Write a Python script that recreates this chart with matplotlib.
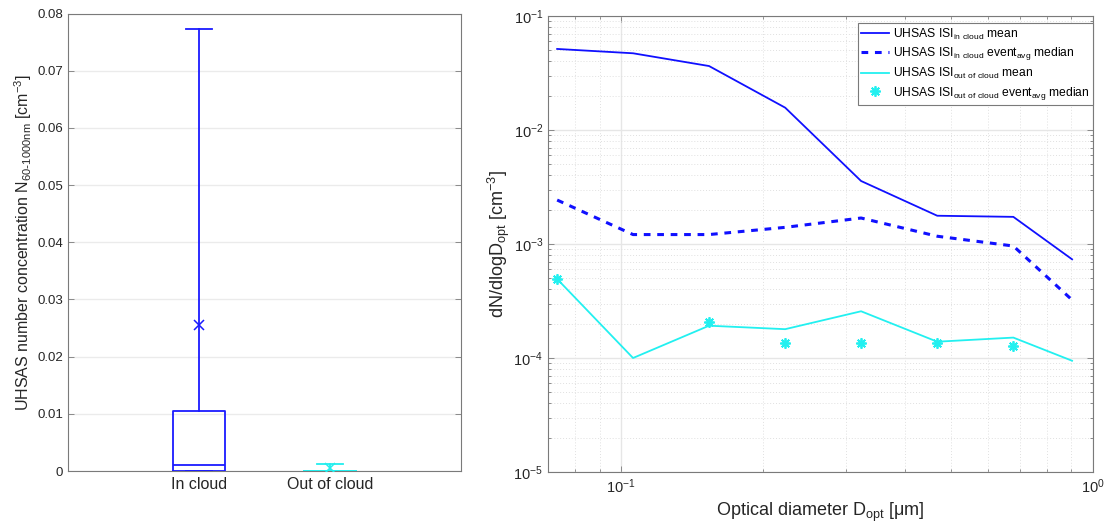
import numpy as np
import matplotlib
matplotlib.use("Agg")
import matplotlib.pyplot as plt
from matplotlib.ticker import NullFormatter, LogLocator, FuncFormatter

plt.rcParams['font.family'] = ['Liberation Sans', 'DejaVu Sans']
plt.rcParams['mathtext.default'] = 'regular'

# ---- box plot: total number concentration ----
box_labels = ["In cloud", "Out of cloud"]
box_whislo = [0.0, 0.0]
box_q1 = [0.0, 0.0]
box_med = [0.00105, 0.0]
box_q3 = [0.01055, 0.0]
box_whishi = [0.0773, 0.00117]
box_mean = [0.02555, 0.0005]
box_colors = ["#1a1aff", "#22eeee"]
left_yticks = [0, 0.01, 0.02, 0.03, 0.04, 0.05, 0.06, 0.07, 0.08]

# ---- size distributions ----
d_opt = [0.0732, 0.106, 0.1536, 0.2227, 0.3225, 0.4676, 0.678, 0.903]
in_mean = [0.0514, 0.0471, 0.0364, 0.0157, 3.57e-3, 1.77e-3, 1.73e-3, 7.34e-4]
in_median = [2.43e-3, 1.21e-3, 1.21e-3, 1.40e-3, 1.69e-3, 1.17e-3, 9.6e-4, 3.23e-4]
out_mean = [4.93e-4, 1.0e-4, 1.92e-4, 1.79e-4, 2.57e-4, 1.39e-4, 1.51e-4, 9.46e-5]
out_median = [4.93e-4, np.nan, 2.07e-4, 1.36e-4, 1.36e-4, 1.35e-4, 1.27e-4, np.nan]

fig = plt.figure(figsize=(11.07, 5.23), dpi=100)
spine_c = "#7a7a7a"
text_c = "#262626"

# left panel
ax1 = fig.add_axes([68/1107, 52/523, 393/1107, 457.5/523])
for i in range(2):
    st = dict(label=box_labels[i], whislo=box_whislo[i], q1=box_q1[i],
              med=box_med[i], q3=box_q3[i], whishi=box_whishi[i],
              mean=box_mean[i], fliers=[])
    c = box_colors[i]
    ax1.bxp([st], positions=[i + 1], widths=0.4, capwidths=0.2, showmeans=True,
            boxprops=dict(color=c, lw=1.3),
            medianprops=dict(color=c, lw=1.3),
            whiskerprops=dict(color=c, lw=1.3),
            capprops=dict(color=c, lw=1.3),
            meanprops=dict(marker='x', markeredgecolor=c, markersize=7, markeredgewidth=1.1),
            zorder=3)
ax1.set_xlim(0, 3)
ax1.set_ylim(0, 0.08)
ax1.set_xticks([1, 2])
ax1.set_xticklabels(box_labels, fontsize=11.5, color=text_c)
ax1.tick_params(axis='x', length=0, pad=4)
ax1.set_yticks(left_yticks)
ax1.yaxis.set_major_formatter(FuncFormatter(lambda v, p: "%g" % v))
ax1.tick_params(axis='y', direction='in', length=4, labelsize=9.5, colors=spine_c,
                labelcolor=text_c, right=True, width=0.6)
ax1.grid(axis='y', color="#ebebeb", lw=1.0, zorder=0)
ax1.set_axisbelow(True)
for s in ax1.spines.values():
    s.set_color(spine_c)
    s.set_linewidth(0.8)
ax1.set_ylabel("UHSAS number concentration N$_{60\\text{-}1000nm}$ [cm$^{-3}$]",
               fontsize=11.5, color=text_c, labelpad=2)

# right panel
ax2 = fig.add_axes([548/1107, 51/523, 545/1107, 456/523])
ax2.set_xscale('log')
ax2.set_yscale('log')
ax2.plot(d_opt, in_mean, color="#1010ff", lw=1.3, label="UHSAS ISI$_{in\\ cloud}$ mean", zorder=3)
ax2.plot(d_opt, in_median, color="#1010ff", lw=2.2, ls=(0, (2.2, 2.2)),
         label="UHSAS ISI$_{in\\ cloud}$ event$_{avg}$ median", zorder=3)
ax2.plot(d_opt, out_mean, color="#22f0f0", lw=1.3,
         label="UHSAS ISI$_{out\\ of\\ cloud}$ mean", zorder=3)
ax2.plot(d_opt, out_median, ls='none', marker=(8, 2, 0), markersize=7.5,
         markeredgewidth=1.3, color="#22f0f0",
         label="UHSAS ISI$_{out\\ of\\ cloud}$ event$_{avg}$ median", zorder=3)
ax2.set_xlim(0.07, 1)
ax2.set_ylim(1e-5, 1e-1)
ax2.xaxis.set_minor_formatter(NullFormatter())
ax2.yaxis.set_minor_formatter(NullFormatter())
ax2.yaxis.set_minor_locator(LogLocator(base=10, subs=np.arange(2, 10), numticks=20))
ax2.xaxis.set_minor_locator(LogLocator(base=10, subs=np.arange(2, 10), numticks=20))
ax2.tick_params(which='both', direction='in', top=True, right=True, colors=spine_c,
                labelcolor=text_c, width=0.6)
ax2.tick_params(which='major', length=4, labelsize=10.5)
ax2.tick_params(which='minor', length=2.5)
ax2.tick_params(axis='x', which='major', pad=4)
ax2.grid(which='major', color="#e6e6e6", lw=1.0)
ax2.grid(which='minor', color="#e0e0e0", lw=0.7, ls=(0, (1, 2)))
ax2.set_axisbelow(True)
for s in ax2.spines.values():
    s.set_color(spine_c)
    s.set_linewidth(0.8)
ax2.set_xlabel("Optical diameter D$_{opt}$ [μm]", fontsize=13, color=text_c, labelpad=3)
ax2.set_ylabel("dN/dlogD$_{opt}$ [cm$^{-3}$]", fontsize=13, color=text_c, labelpad=1)
leg = ax2.legend(loc='upper right', bbox_to_anchor=(1.0, 0.985), fontsize=8.7,
                 handlelength=2.3, handletextpad=0.3, borderpad=0.3, labelspacing=0.3,
                 fancybox=False, framealpha=1, edgecolor=spine_c, borderaxespad=0)
leg.get_frame().set_linewidth(0.8)

fig.savefig("out.png", dpi=100)
